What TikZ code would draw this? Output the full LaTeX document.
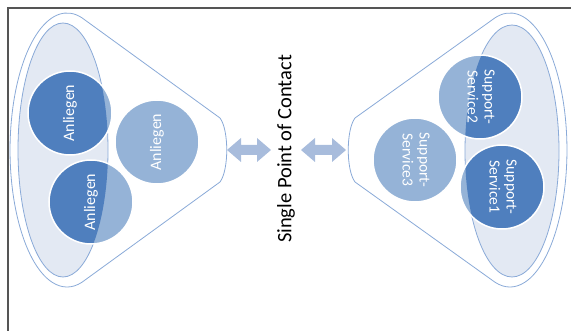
\documentclass[tikz,border=0pt]{standalone}
\usepackage{fontspec}
\setmainfont{Carlito}
\definecolor{darkc}{HTML}{4F7FBE}
\definecolor{lightc}{HTML}{95B3D7}
\definecolor{ellfill}{HTML}{E3E9F3}
\definecolor{edgec}{HTML}{8AAAD8}
\definecolor{arrowc}{HTML}{A8BCDC}
\definecolor{framec}{HTML}{555555}
\tikzset{
  funnel/.style={draw=edgec, line width=0.8pt, fill=white},
  inner/.style={draw=edgec, line width=0.8pt, fill=ellfill},
  ball/.style={circle, minimum size=84pt, inner sep=0pt, text=white, font=\fontsize{16}{17}\selectfont, align=center},
  ballring/.style={draw=white, line width=1.5pt},
  darrow/.style={fill=arrowc, draw=none},
}
\begin{document}
\begin{tikzpicture}[x=1pt,y=-1pt]
\useasboundingbox (0,0) rectangle (571,331);
% frame
\draw[framec, line width=1.3pt] (8,331) -- (8,8) -- (571,8);

% ---------- left funnel ----------
\coordinate (LnT) at (220,118);
\coordinate (LnB) at (220,182);
\draw[funnel] (81.8,17.7) arc[start angle=-75, end angle=-285, x radius=57, y radius=137]
  -- (LnB) .. controls (229,170) and (229,130) .. (LnT) -- cycle;
\draw[inner] (63,150) ellipse[x radius=45, y radius=127];
% light circles
\foreach \p in {(70,113),(91,202),(157,142)} \fill[lightc] \p circle[radius=42];
\begin{scope}
  \clip (63,150) ellipse[x radius=45, y radius=127];
  \foreach \p in {(70,113),(91,202),(157,142)} \fill[darkc] \p circle[radius=42];
\end{scope}
\foreach \p in {(70,113),(91,202),(157,142)} \draw[ballring] \p circle[radius=42];
\node[ball, rotate=90] (a1) at (70,113) {Anliegen};
\node[ball, rotate=90] (a2) at (91,202) {Anliegen};
\node[ball, rotate=90] (a3) at (157,142) {Anliegen};

% ---------- right funnel ----------
\coordinate (RnT) at (355,118);
\coordinate (RnB) at (355,182);
\draw[funnel] (495.2,17.7) arc[start angle=-105, end angle=105, x radius=57, y radius=137]
  -- (RnB) .. controls (346,170) and (346,130) .. (RnT) -- cycle;
\draw[inner] (512,151) ellipse[x radius=47, y radius=126];
\foreach \p in {(480,97),(502,187),(415,160)} \fill[lightc] \p circle[radius=42];
\begin{scope}
  \clip (512,151) ellipse[x radius=47, y radius=126];
  \foreach \p in {(480,97),(502,187),(415,160)} \fill[darkc] \p circle[radius=42];
\end{scope}
\foreach \p in {(480,97),(502,187),(415,160)} \draw[ballring] \p circle[radius=42];
\node[ball, rotate=-90, font=\fontsize{15.5}{17}\selectfont] (s2) at (481,97) {Support-\\Service2};
\node[ball, rotate=-90, font=\fontsize{15.5}{17}\selectfont] (s1) at (503,187) {Support-\\Service1};
\node[ball, rotate=-90, font=\fontsize{15.5}{17}\selectfont] (s3) at (416,160) {Support-\\Service3};

% ---------- center ----------
\node[rotate=90, font=\fontsize{20.5}{22}\selectfont] (spoc) at (286,149) {Single Point of Contact};

% double arrows
\fill[darrow] (227,150) -- (241,138) -- (241,145) -- (257,145) -- (257,138) -- (271,150)
  -- (257,162) -- (257,155) -- (241,155) -- (241,162) -- cycle;
\fill[darrow] (301,150) -- (315,138) -- (315,145) -- (332,145) -- (332,138) -- (346,150)
  -- (332,162) -- (332,155) -- (315,155) -- (315,162) -- cycle;
\end{tikzpicture}
\end{document}
